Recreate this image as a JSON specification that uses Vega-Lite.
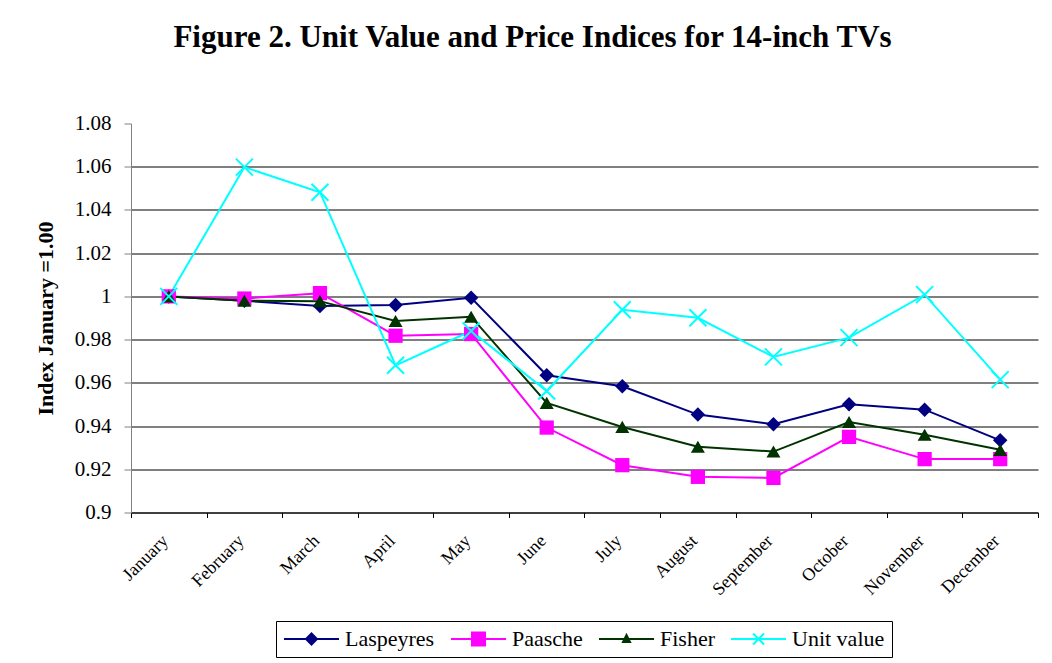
{
  "$schema": "https://vega.github.io/schema/vega-lite/v6.json",
  "autosize": "none",
  "width": 907,
  "height": 389,
  "padding": {"left": 131, "top": 123.5, "right": 14, "bottom": 150.5},
  "background": "white",
  "config": {
    "view": {"stroke": null},
    "font": "Liberation Serif",
    "axis": {"labelFont": "Liberation Serif", "titleFont": "Liberation Serif"},
    "legend": {"labelFont": "Liberation Serif"}
  },
  "title": {
    "text": "Figure 2. Unit Value and Price Indices for 14-inch TVs",
    "font": "Liberation Serif",
    "fontSize": 31,
    "fontWeight": "bold",
    "color": "black",
    "anchor": "middle",
    "frame": "group",
    "dx": -52,
    "offset": 59
  },
  "data": {
    "values": [
      {"month": "January", "series": "Laspeyres", "value": 1.0},
      {"month": "February", "series": "Laspeyres", "value": 0.998},
      {"month": "March", "series": "Laspeyres", "value": 0.9955},
      {"month": "April", "series": "Laspeyres", "value": 0.996},
      {"month": "May", "series": "Laspeyres", "value": 0.9994},
      {"month": "June", "series": "Laspeyres", "value": 0.9635},
      {"month": "July", "series": "Laspeyres", "value": 0.9584},
      {"month": "August", "series": "Laspeyres", "value": 0.9453},
      {"month": "September", "series": "Laspeyres", "value": 0.9408},
      {"month": "October", "series": "Laspeyres", "value": 0.9501},
      {"month": "November", "series": "Laspeyres", "value": 0.9476},
      {"month": "December", "series": "Laspeyres", "value": 0.9334},
      {"month": "January", "series": "Paasche", "value": 1.0},
      {"month": "February", "series": "Paasche", "value": 0.999},
      {"month": "March", "series": "Paasche", "value": 1.0015},
      {"month": "April", "series": "Paasche", "value": 0.9818},
      {"month": "May", "series": "Paasche", "value": 0.9826},
      {"month": "June", "series": "Paasche", "value": 0.9393},
      {"month": "July", "series": "Paasche", "value": 0.9219},
      {"month": "August", "series": "Paasche", "value": 0.9165},
      {"month": "September", "series": "Paasche", "value": 0.916},
      {"month": "October", "series": "Paasche", "value": 0.935},
      {"month": "November", "series": "Paasche", "value": 0.9247},
      {"month": "December", "series": "Paasche", "value": 0.9247},
      {"month": "January", "series": "Fisher", "value": 1.0},
      {"month": "February", "series": "Fisher", "value": 0.998},
      {"month": "March", "series": "Fisher", "value": 0.9978},
      {"month": "April", "series": "Fisher", "value": 0.9886},
      {"month": "May", "series": "Fisher", "value": 0.9906},
      {"month": "June", "series": "Fisher", "value": 0.9507},
      {"month": "July", "series": "Fisher", "value": 0.9396},
      {"month": "August", "series": "Fisher", "value": 0.9304},
      {"month": "September", "series": "Fisher", "value": 0.9282},
      {"month": "October", "series": "Fisher", "value": 0.9419},
      {"month": "November", "series": "Fisher", "value": 0.936},
      {"month": "December", "series": "Fisher", "value": 0.929},
      {"month": "January", "series": "Unit value", "value": 1.0},
      {"month": "February", "series": "Unit value", "value": 1.0598},
      {"month": "March", "series": "Unit value", "value": 1.0482},
      {"month": "April", "series": "Unit value", "value": 0.9681},
      {"month": "May", "series": "Unit value", "value": 0.984},
      {"month": "June", "series": "Unit value", "value": 0.9562},
      {"month": "July", "series": "Unit value", "value": 0.9938},
      {"month": "August", "series": "Unit value", "value": 0.9901},
      {"month": "September", "series": "Unit value", "value": 0.972},
      {"month": "October", "series": "Unit value", "value": 0.9809},
      {"month": "November", "series": "Unit value", "value": 1.0008},
      {"month": "December", "series": "Unit value", "value": 0.9615}
    ]
  },
  "encoding": {
    "x": {
      "field": "month",
      "type": "nominal",
      "sort": null,
      "bandPosition": 0.5,
      "scale": {"type": "band", "paddingInner": 0, "paddingOuter": 0},
      "axis": {
        "title": null,
        "tickBand": "extent",
        "labelAngle": -45,
        "labelFont": "Liberation Serif",
        "labelFontSize": 18,
        "labelColor": "black",
        "labelPadding": 14,
        "labelOffset": -10,
        "domainColor": "black",
        "tickColor": "black",
        "tickSize": 5,
        "grid": false
      }
    },
    "y": {
      "field": "value",
      "type": "quantitative",
      "scale": {"domain": [0.9, 1.08], "nice": false, "zero": false},
      "axis": {
        "title": "Index January =1.00",
        "titleFont": "Liberation Serif",
        "titleFontSize": 22,
        "titleFontWeight": "bold",
        "titleColor": "black",
        "titleBaseline": "middle",
        "titleX": -86,
        "titleY": 194.5,
        "values": [0.9, 0.92, 0.94, 0.96, 0.98, 1.0, 1.02, 1.04, 1.06, 1.08],
        "format": "~g",
        "labelFont": "Liberation Serif",
        "labelFontSize": 21,
        "labelColor": "black",
        "labelPadding": 13,
        "tickSize": 7,
        "tickColor": "#808080",
        "domainColor": "#808080",
        "grid": true,
        "gridColor": {"condition": {"test": "datum.value > 1.07", "value": "transparent"}, "value": "black"},
        "gridOpacity": 1
      }
    },
    "color": {
      "field": "series",
      "type": "nominal",
      "scale": {
        "domain": ["Laspeyres", "Paasche", "Fisher", "Unit value"],
        "range": ["#000080", "#FF00FF", "#003300", "#00FFFF"]
      },
      "legend": {
        "title": null,
        "orient": "none",
        "legendX": 145,
        "legendY": 497.5,
        "direction": "horizontal",
        "strokeColor": "black",
        "fillColor": "white",
        "padding": 7,
        "columnPadding": 12,
        "labelFont": "Liberation Serif",
        "labelFontSize": 22,
        "labelColor": "black",
        "labelOffset": 22.5,
        "symbolSize": 400,
        "symbolOffset": 17.5,
        "symbolStrokeWidth": 2,
        "encode": {
          "labels": {
            "update": {
              "font": {"value": "Liberation Serif"}
            }
          },
          "symbols": {
            "update": {
              "shape": {"signal": "datum.value === 'Laspeyres' ? 'M-2.75,0L2.75,0M0,-0.55L0.55,0L0,0.55L-0.55,0Z' : datum.value === 'Paasche' ? 'M-2.75,0L2.75,0M-0.65,-0.65L0.65,-0.65L0.65,0.65L-0.65,0.65Z' : datum.value === 'Fisher' ? 'M-2.75,0L2.75,0M-0.35,0.3L0.35,0.3L0,-0.4Z' : 'M-2.75,0L2.75,0M-0.55,-0.55L0.55,0.55M-0.55,0.55L0.55,-0.55'"},
              "fill": {"signal": "datum.value === 'Unit value' ? 'transparent' : scale('color', datum.value)"},
              "stroke": {"signal": "scale('color', datum.value)"},
              "strokeWidth": {"value": 2},
              "opacity": {"value": 1}
            }
          }
        }
      }
    }
  },
  "layer": [
    {
      "mark": {"type": "line", "strokeWidth": 2}
    },
    {
      "transform": [{"filter": "datum.series !== 'Unit value'"}],
      "mark": {"type": "point", "filled": true, "opacity": 1},
      "encoding": {
        "shape": {
          "field": "series",
          "type": "nominal",
          "scale": {"domain": ["Laspeyres", "Paasche", "Fisher"], "range": ["diamond", "square", "triangle-up"]},
          "legend": null
        },
        "size": {
          "field": "series",
          "type": "nominal",
          "scale": {"domain": ["Laspeyres", "Paasche", "Fisher"], "range": [210, 196, 70]},
          "legend": null
        }
      }
    },
    {
      "transform": [{"filter": "datum.series === 'Unit value'"}],
      "mark": {"type": "point", "filled": false, "opacity": 1, "strokeWidth": 2, "size": 289, "shape": "M-1,-1L1,1M1,-1L-1,1"}
    }
  ]
}
